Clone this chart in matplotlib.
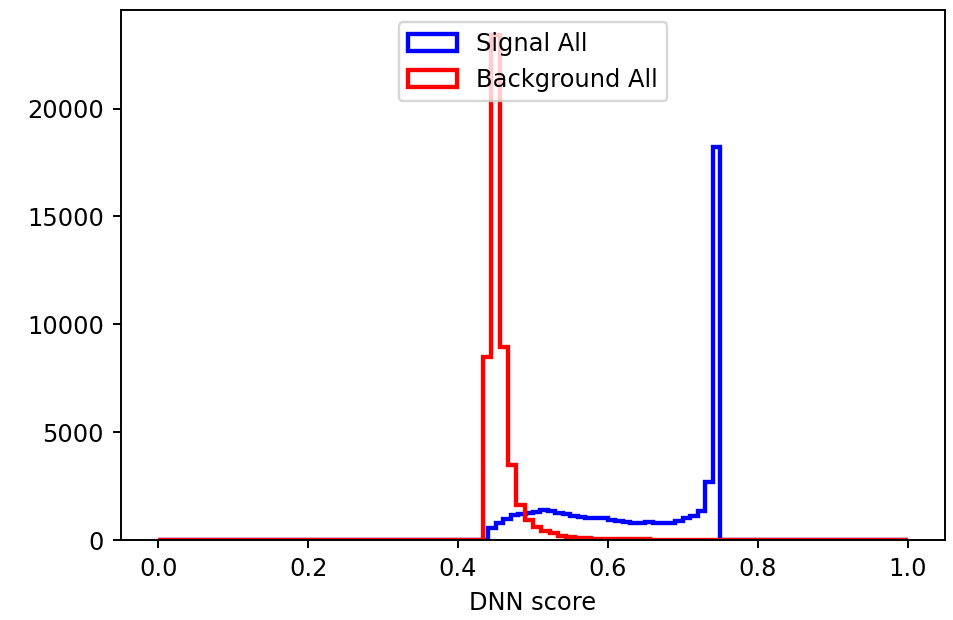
import numpy as np
import matplotlib
matplotlib.use("Agg")
import matplotlib.pyplot as plt

# signal: 100 bins over [0, 1], non-zero counts start at bin 44 (score 0.44)
sig_nbins = 100
sig_first_bin = 44
sig_counts = [540, 770, 970, 1160, 1205, 1240, 1315, 1370, 1340, 1265,
              1190, 1130, 1080, 1035, 1035, 1000, 925, 880, 815, 770,
              800, 850, 800, 770, 800, 900, 1000, 1110, 1340, 2670,
              18230]

# background: 90 bins over [0, 1], non-zero counts start at bin 39
bkg_nbins = 90
bkg_first_bin = 39
bkg_counts = [8500, 23400, 8950, 3475, 1620, 925, 620, 430, 310, 200,
              140, 110, 80, 60, 50, 40, 35, 30, 25, 25,
              20, 20, 15, 15, 12, 12, 10, 10, 8, 8,
              6, 5, 4, 3, 2]


def fullHist(nbins, first_bin, counts):
    w = np.zeros(nbins)
    w[first_bin:first_bin + len(counts)] = counts
    edges = np.linspace(0, 1, nbins + 1)
    return edges, w


sig_edges, sig_w = fullHist(sig_nbins, sig_first_bin, sig_counts)
bkg_edges, bkg_w = fullHist(bkg_nbins, bkg_first_bin, bkg_counts)

DPI = 174
fig = plt.figure(figsize=(954 / DPI, 620 / DPI), dpi=DPI)
ax = fig.add_axes([0.1268, 0.129, 0.9906 - 0.1268, 0.984 - 0.129])

ax.hist(sig_edges[:-1], bins=sig_edges, weights=sig_w, histtype='step',
        color='blue', linewidth=1.8, label='Signal All')
ax.hist(bkg_edges[:-1], bins=bkg_edges, weights=bkg_w, histtype='step',
        color='red', linewidth=1.8, label='Background All')

ax.set_xlabel('DNN score')
ax.legend(loc='upper center')

fig.savefig('out.png', dpi=DPI)
